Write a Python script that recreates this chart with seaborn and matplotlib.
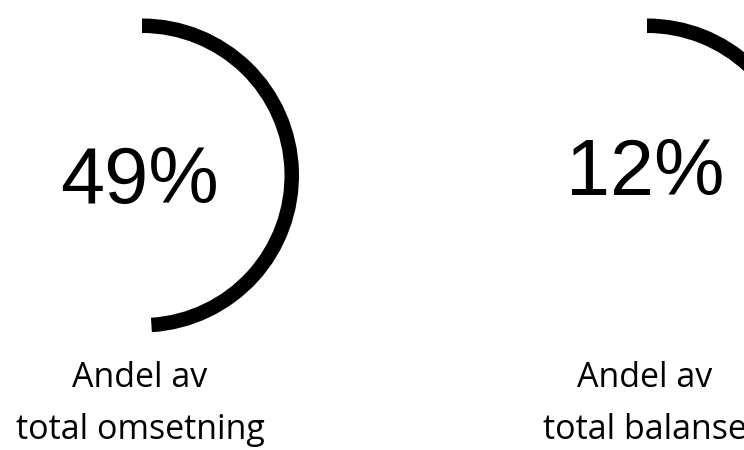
import matplotlib
matplotlib.use("Agg")
import matplotlib.pyplot as plt
import seaborn as sns

sns.set_theme(style="white")

# Data
shares = [49, 12]
pct_labels = ["49%", "12%"]
line1 = ["Andel av", "Andel av"]
line2 = ["total omsetning", "total balanse"]

W, H = 744, 450
fig = plt.figure(figsize=(W / 100, H / 100), dpi=100)
fig.patch.set_facecolor("white")

centers = [(142, 175.5), (647, 175.5)]
pct_base = [203, 195]
R = 157.0
ring = 14.5

for (cx, cy), pb, v, pl, l1, l2 in zip(centers, pct_base, shares, pct_labels, line1, line2):
    ax = fig.add_axes([(cx - R) / W, 1 - (cy + R) / H, 2 * R / W, 2 * R / H])
    ax.pie([v, 100 - v], startangle=90, counterclock=False,
           colors=["black", "none"],
           wedgeprops=dict(width=ring / R, edgecolor="none", linewidth=0))
    ax.set_xlim(-1, 1)
    ax.set_ylim(-1, 1)
    ax.set_aspect("equal")
    ax.axis("off")
    tx = (cx - 2) / W
    fig.text(tx, 1 - pb / H, pl, ha="center", va="baseline", fontsize=57,
             family="Liberation Sans", color="black")
    fig.text(tx, 1 - 387 / H, l1, ha="center", va="baseline",
             fontsize=24.5, family="Open Sans", color="black")
    fig.text(tx, 1 - 439 / H, l2, ha="center", va="baseline",
             fontsize=24.5, family="Open Sans", color="black")

fig.savefig("out.png", dpi=100, facecolor="white")
